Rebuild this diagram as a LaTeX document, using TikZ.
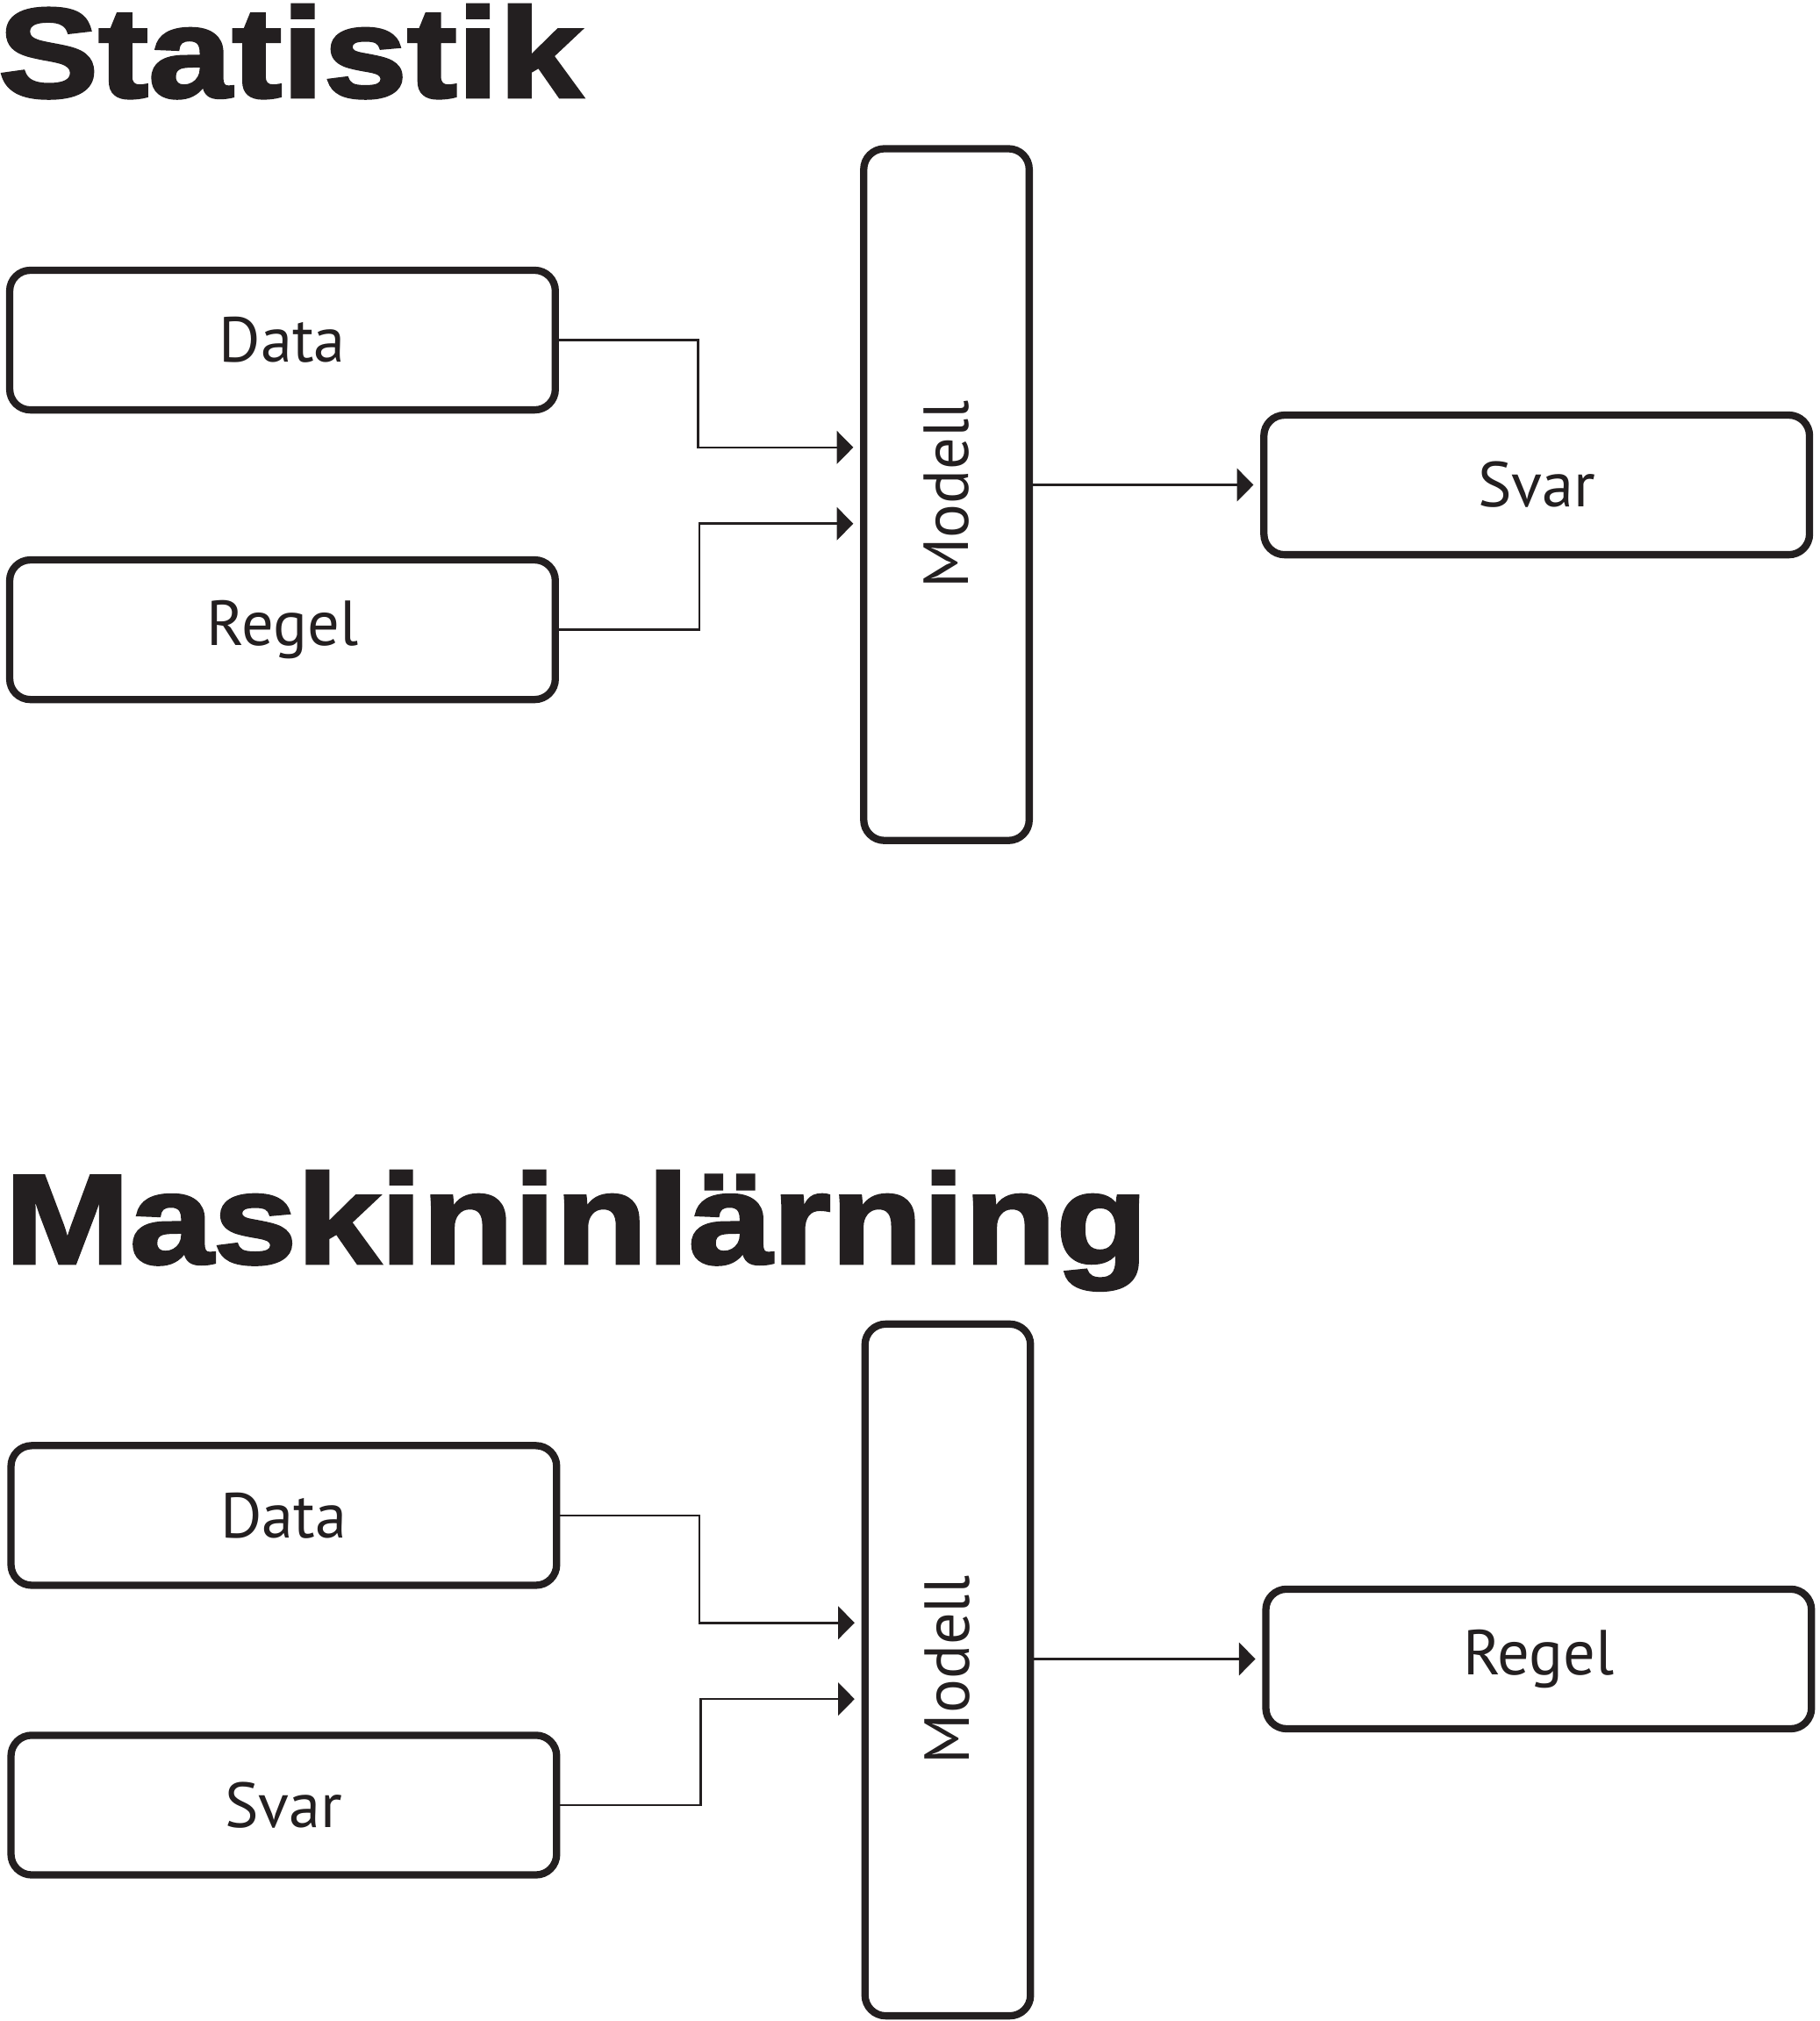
\documentclass[tikz,border=0pt]{standalone}
\usepackage{fontspec}
\usepackage{tikz}
\usetikzlibrary{arrows.meta}
\setmainfont{PT Sans}
\newfontfamily\titlefont[FakeBold=2.5,FakeStretch=1.18]{Liberation Sans Bold}
\definecolor{ink}{HTML}{231F20}

\tikzset{
    box/.style={draw=ink, line width=1.6pt, rounded corners=0.16cm, text=ink,
        inner sep=0pt, font=\fontsize{14}{16}\selectfont},
    wide/.style={box, minimum width=4.22cm, minimum height=1.08cm},
    tall/.style={box, minimum width=1.28cm, minimum height=5.35cm},
    conn/.style={draw=ink, line width=0.5pt, -{Triangle[length=3.6pt,width=7.2pt]}, shorten >=1.5pt},
    title/.style={anchor=base west, inner sep=0pt, text=ink, font=\titlefont\fontsize{28}{30}\selectfont}
}

\begin{document}
\begin{tikzpicture}
    \useasboundingbox (0,0) rectangle (14.07,-15.63);

    % Statistik
    \node[title] (t1) at (-0.02,-0.75) {Statistik};
    \node[wide] (d1) at (2.185,-2.63) {Data};
    \node[wide] (r1) at (2.185,-4.87) {Regel};
    \node[tall] (m1) at (7.32,-3.825) {};
    \node[rotate=90, text=ink, font=\fontsize{14}{16}\selectfont] (ml1) at (m1.center) {Modell};
    \node[wide] (s1) at (11.885,-3.75) {Svar};

    \coordinate (b1) at (5.40,-3.46);
    \coordinate (b2) at (5.41,-4.05);
    \draw[conn] (d1.east) -| (b1) -- (b1 -| m1.west);
    \draw[conn] (r1.east) -| (b2) -- (b2 -| m1.west);
    \draw[conn] (s1.west -| m1.east) -- (s1.west);

    % Maskininlärning
    \node[title] (t2) at (0.03,-9.77) {Maskininlärning};
    \node[wide] (d2) at (2.195,-11.72) {Data};
    \node[wide] (s2) at (2.195,-13.96) {Svar};
    \node[tall] (m2) at (7.33,-12.915) {};
    \node[rotate=90, text=ink, font=\fontsize{14}{16}\selectfont] (ml2) at (m2.center) {Modell};
    \node[wide] (r2) at (11.90,-12.83) {Regel};

    \coordinate (b3) at (5.41,-12.55);
    \coordinate (b4) at (5.42,-13.14);
    \draw[conn] (d2.east) -| (b3) -- (b3 -| m2.west);
    \draw[conn] (s2.east) -| (b4) -- (b4 -| m2.west);
    \draw[conn] (r2.west -| m2.east) -- (r2.west);
\end{tikzpicture}
\end{document}
